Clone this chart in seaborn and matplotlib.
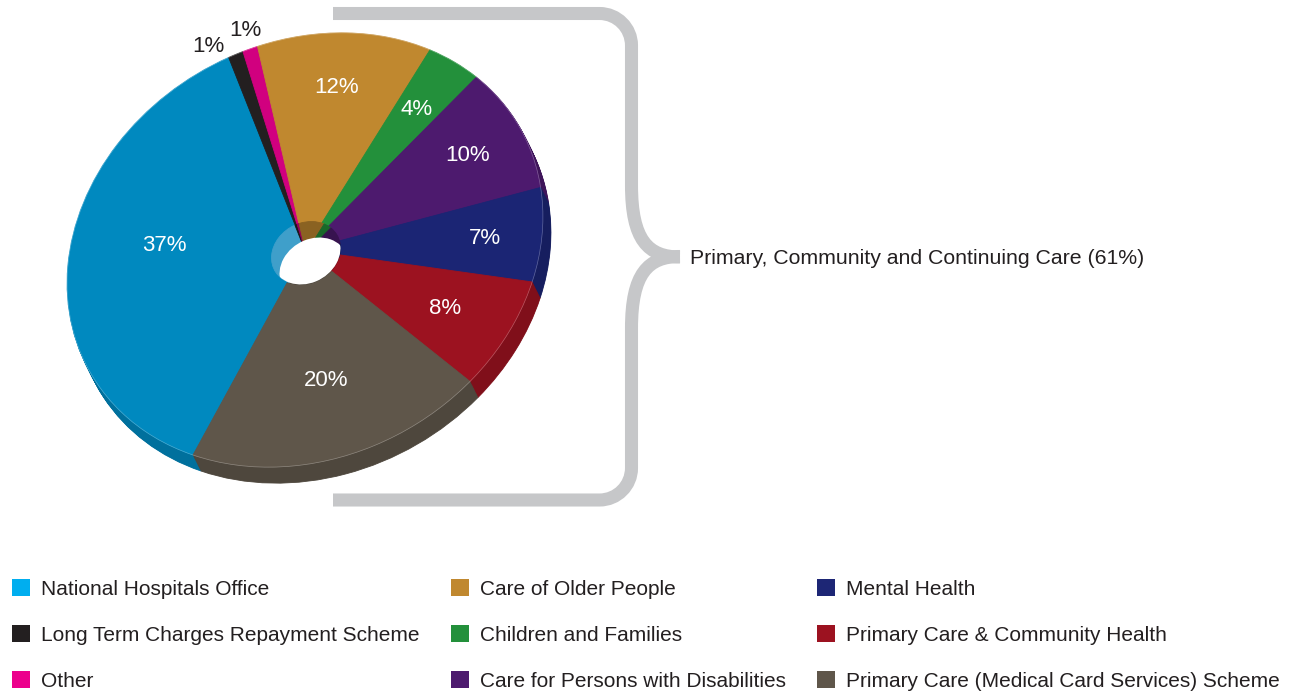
import numpy as np
import matplotlib
matplotlib.use("Agg")
import matplotlib.pyplot as plt
import matplotlib.colors as mcolors
from matplotlib.transforms import Affine2D
from matplotlib.patches import Patch, Circle, PathPatch
from matplotlib.path import Path
import seaborn as sns

# ---- data -------------------------------------------------------------
categories = [
    "National Hospitals Office",
    "Long Term Charges Repayment Scheme",
    "Other",
    "Care of Older People",
    "Children and Families",
    "Care for Persons with Disabilities",
    "Mental Health",
    "Primary Care & Community Health",
    "Primary Care (Medical Card Services) Scheme",
]
shares = [37, 1, 1, 12, 4, 10, 7, 8, 20]
slice_colors = ["#0089bf", "#231f20", "#d1007f", "#c0882f", "#23903b",
                "#4d1a6e", "#1b2574", "#9c1220", "#5f564a"]
legend_colors = ["#00aeef", "#231f20", "#ec008c", "#c0882f", "#23903b",
                 "#4d1a6e", "#1d2675", "#9c1220", "#5f564a"]
group_label = "Primary, Community and Continuing Care (61%)"

# ---- style ------------------------------------------------------------
sns.set_theme(style="white")
plt.rcParams["font.family"] = ["Liberation Sans", "DejaVu Sans"]
TEXT_DARK = "#231f20"
BRACE_GREY = "#c6c7c9"

W, H = 1294, 692
fig = plt.figure(figsize=(W / 100, H / 100), dpi=100)
ax = fig.add_axes([0, 0, 1, 1])


def shade(color, k):
    r, g, b = mcolors.to_rgb(color)
    return (r * k, g * k, b * k)


side_colors = [shade(c, 0.82) for c in slice_colors]
wall_colors = [shade(c, 0.72) for c in slice_colors]
wall_colors[0] = "#3f9fca"

# tilted disc: unit-circle pie coordinates -> pixel coordinates
DISC = np.array([[-112.0, 209.9], [-205.0, -71.6]])
CENTER = (305.0, 442.0)
DEPTH = (8.0, -16.0)


def disc_transform(dx=0.0, dy=0.0):
    m = np.array([[DISC[0, 0], DISC[0, 1], CENTER[0] + dx],
                  [DISC[1, 0], DISC[1, 1], CENTER[1] + dy],
                  [0.0, 0.0, 1.0]])
    return Affine2D(m) + ax.transData


def draw_pie(colors, tr, radius=1.0, z=1):
    wedges, _ = ax.pie(shares, colors=colors, startangle=0, counterclock=False,
                       radius=radius, wedgeprops=dict(linewidth=0.6))
    for w, c in zip(wedges, colors):
        w.set_transform(tr)
        w.set_edgecolor(c)
        w.set_zorder(z)
    return wedges


# extruded side of the disc
steps = 18
for k in range(steps, 0, -1):
    f = k / steps
    draw_pie(side_colors, disc_transform(DEPTH[0] * f, DEPTH[1] * f), z=1)

# top face with a faint rim highlight
top = draw_pie(slice_colors, disc_transform(), z=2)
ax.add_patch(Circle((0, 0), 1.0, fill=False, lw=0.5, ec="white", alpha=0.3,
                    transform=disc_transform(), zorder=2.5))

# centre hole: inner wall and see-through opening
HOLE = 0.145
HOLE_SHIFT = (1.0, -3.0)
draw_pie(wall_colors, disc_transform(*HOLE_SHIFT), radius=HOLE, z=3)
opening = Circle((0, 0), HOLE, fc="white", ec="none",
                 transform=disc_transform(DEPTH[0] + HOLE_SHIFT[0],
                                          DEPTH[1] + HOLE_SHIFT[1]), zorder=4)
ax.add_patch(opening)
opening.set_clip_path(Circle((0, 0), HOLE, transform=disc_transform(*HOLE_SHIFT)))

# percentage labels
inside_r = [0.60, None, None, 0.75, 0.75, 0.76, 0.76, 0.69, 0.63]
angle_nudge = [-6.0, 5.0, 0.0, 0, 0, 0, 0, 0, 0]
tr = disc_transform()
for i, (w, v) in enumerate(zip(top, shares)):
    a = np.deg2rad((w.theta1 + w.theta2) / 2 + angle_nudge[i])
    if inside_r[i] is not None:
        r = inside_r[i]
        ax.text(r * np.cos(a), r * np.sin(a), f"{v}%", transform=tr,
                ha="center", va="center", color="white", fontsize=16, zorder=6)
    else:
        ax.text(1.09 * np.cos(a), 1.09 * np.sin(a), f"{v}%", transform=tr,
                ha="center", va="center", color=TEXT_DARK, fontsize=16, zorder=6)


# curly brace grouping the community-care slices
def flip(pts):
    return [(x, H - y) for x, y in pts]


k = 0.5523 * 32
upper = flip([(333, 13.5), (599.5, 13.5),
              (599.5 + k, 13.5), (631.5, 45.5 - k), (631.5, 45.5),
              (631.5, 185), (631.5, 240), (648, 257), (680, 257)])
codes = [Path.MOVETO, Path.LINETO, Path.CURVE4, Path.CURVE4, Path.CURVE4,
         Path.LINETO, Path.CURVE4, Path.CURVE4, Path.CURVE4]
mid_y = H - 256.75
lower = [(x, 2 * mid_y - y) for x, y in upper]
for pts in (upper, lower):
    ax.add_patch(PathPatch(Path(pts, codes), fill=False, lw=9.4, ec=BRACE_GREY,
                           capstyle="butt", joinstyle="round", zorder=0))
ax.text(690, H - 258, group_label, ha="left", va="center",
        fontsize=15.3, color=TEXT_DARK)

# legend
handles = [Patch(facecolor=c, edgecolor="none") for c in legend_colors]
fig.legend(handles, categories, ncol=3, loc="upper left",
           bbox_to_anchor=(12 / W, 113 / H), frameon=False,
           fontsize=15, handlelength=0.865, handleheight=0.865,
           handletextpad=0.53, columnspacing=1.49, labelspacing=1.27,
           borderpad=0, borderaxespad=0, labelcolor=TEXT_DARK)

ax.set_xlim(0, W)
ax.set_ylim(0, H)
ax.set_aspect("auto")
ax.axis("off")
fig.savefig("out.png", dpi=100, facecolor="white")
